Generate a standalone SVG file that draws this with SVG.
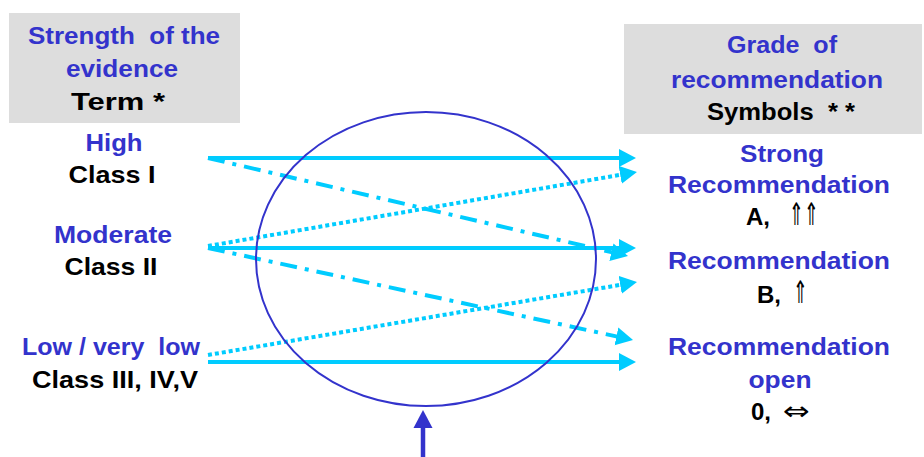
<svg xmlns="http://www.w3.org/2000/svg" width="924" height="457" viewBox="0 0 924 457">
<defs>
<style>
text{font-family:"Liberation Sans",Arial,sans-serif;font-weight:bold;font-size:24px;text-anchor:middle}
.b{fill:#3333cc}
.k{fill:#000}
.st{text-anchor:start}
.sym{font-family:"DejaVu Sans",sans-serif;font-weight:normal;font-size:26px;text-anchor:start;fill:#000}
.up{font-size:31px}
.hdr{fill:#dddddd}
.ln{stroke:#00ccff;stroke-width:4;fill:none}
.dot{stroke-dasharray:4 3}
.dd{stroke-dasharray:17 8 4 8}
</style>
<marker id="ah" markerUnits="userSpaceOnUse" markerWidth="20" markerHeight="20" refX="1" refY="0" viewBox="0 -10 20 20" orient="auto">
<path d="M0,-9 L17,0 L0,9 z" fill="#00ccff"/>
</marker>
<marker id="ahb" markerUnits="userSpaceOnUse" markerWidth="22" markerHeight="22" refX="1" refY="0" viewBox="0 -11 22 22" orient="auto">
<path d="M0,-9.5 L18,0 L0,9.5 z" fill="#3333cc"/>
</marker>
</defs>
<rect width="924" height="457" fill="#fff"/>
<g id="left-header">
<rect class="hdr" x="9" y="13" width="231" height="110"/>
<text class="b" x="124" y="44" textLength="192" lengthAdjust="spacingAndGlyphs" xml:space="preserve">Strength  of the</text>
<text class="b" x="122" y="77" textLength="112" lengthAdjust="spacingAndGlyphs">evidence</text>
<text class="k" x="118" y="110" textLength="94" lengthAdjust="spacingAndGlyphs">Term *</text>
</g>
<g id="right-header">
<rect class="hdr" x="624" y="24" width="298" height="110"/>
<text class="b" x="782" y="53" textLength="110" lengthAdjust="spacingAndGlyphs" xml:space="preserve">Grade  of</text>
<text class="b" x="777" y="88" textLength="212" lengthAdjust="spacingAndGlyphs">recommendation</text>
<text class="k" x="781" y="120" textLength="148" lengthAdjust="spacingAndGlyphs" xml:space="preserve">Symbols  * *</text>
</g>
<g id="high"><text class="b" x="114" y="151" textLength="57" lengthAdjust="spacingAndGlyphs">High</text><text class="k" x="112" y="183" textLength="87" lengthAdjust="spacingAndGlyphs">Class I</text></g>
<g id="moderate"><text class="b" x="113" y="243" textLength="118" lengthAdjust="spacingAndGlyphs">Moderate</text><text class="k" x="111" y="275" textLength="93" lengthAdjust="spacingAndGlyphs">Class II</text></g>
<g id="low"><text class="b" x="111" y="355" textLength="178" lengthAdjust="spacingAndGlyphs" xml:space="preserve">Low / very  low</text><text class="k" x="115" y="388" textLength="166" lengthAdjust="spacingAndGlyphs">Class III, IV,V</text></g>
<g id="strong"><text class="b" x="782" y="162" textLength="84" lengthAdjust="spacingAndGlyphs">Strong</text><text class="b" x="779" y="193" textLength="222" lengthAdjust="spacingAndGlyphs">Recommendation</text><text class="k st" x="746" y="225">A,</text><text class="sym up" x="789" y="225" textLength="30" lengthAdjust="spacingAndGlyphs">⇑⇑</text></g>
<g id="recommendation"><text class="b" x="779" y="269" textLength="222" lengthAdjust="spacingAndGlyphs">Recommendation</text><text class="k st" x="757" y="303">B,</text><text class="sym up" x="793" y="303" textLength="15" lengthAdjust="spacingAndGlyphs">⇑</text></g>
<g id="open"><text class="b" x="779" y="355" textLength="222" lengthAdjust="spacingAndGlyphs">Recommendation</text><text class="b" x="780" y="388" textLength="63" lengthAdjust="spacingAndGlyphs">open</text><text class="k st" x="751" y="420">0,</text><text class="sym" x="783" y="420" textLength="27" lengthAdjust="spacingAndGlyphs">⇔</text></g>
<g id="connectors">
<line class="ln" x1="208" y1="158" x2="620" y2="158" marker-end="url(#ah)"/>
<line class="ln" x1="208" y1="248" x2="620" y2="248" marker-end="url(#ah)"/>
<line class="ln" x1="208" y1="362" x2="620" y2="362" marker-end="url(#ah)"/>
<line class="ln dd" x1="208" y1="158" x2="612.4" y2="252.4" marker-end="url(#ah)"/>
<line class="ln dd" x1="208" y1="248" x2="617.4" y2="336.6" marker-end="url(#ah)"/>
<line class="ln dot" x1="208" y1="246" x2="621.2" y2="174.7" marker-end="url(#ah)"/>
<line class="ln dot" x1="208" y1="355" x2="621.2" y2="284.7" marker-end="url(#ah)"/>
<line x1="423" y1="457" x2="423" y2="427" stroke="#3333cc" stroke-width="4.5" marker-end="url(#ahb)"/>
</g>
<g id="circle">
<ellipse cx="426" cy="259" rx="170" ry="147" fill="none" stroke="#3333cc" stroke-width="2"/>
</g>
</svg>
